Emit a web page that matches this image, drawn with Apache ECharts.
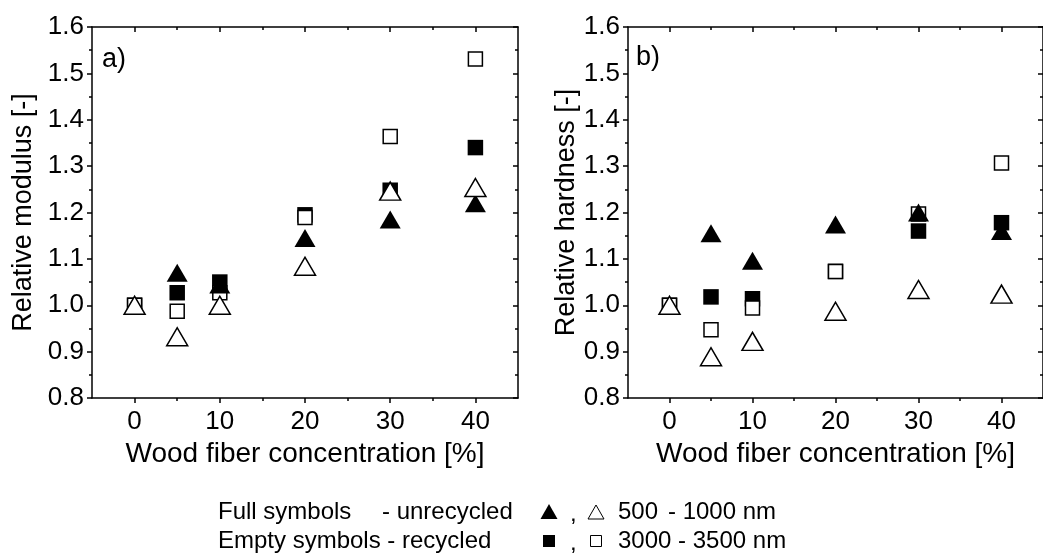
<!DOCTYPE html>
<html>
<head>
<meta charset="utf-8">
<script src="https://cdn.jsdelivr.net/npm/echarts@6/dist/echarts.min.js"></script>
<style>
  html, body { margin: 0; padding: 0; background: #fff; }
  #chart { width: 1043px; height: 557px; }
</style>
</head>
<body>
<div id="chart"></div>
<script>
// Wood fiber concentration [%]
const concentration = [0, 5, 10, 20, 30, 40];

// Tick positions
const xMajorTicks = [0, 10, 20, 30, 40];
const xMinorTicks = [5, 15, 25, 35];
const yMajorTicks = [0.8, 0.9, 1.0, 1.1, 1.2, 1.3, 1.4, 1.5, 1.6];
const yMinorTicks = [0.85, 0.95, 1.05, 1.15, 1.25, 1.35, 1.45, 1.55];

// a) Relative modulus [-]
const modulusUnrecycled500 = [1.0, 1.07, 1.045, 1.145, 1.185, 1.22];
const modulusRecycled500 = [1.0, 0.932, 1.0, 1.084, 1.246, 1.254];
const modulusUnrecycled3000 = [1.0, 1.027, 1.05, 1.195, 1.248, 1.34];
const modulusRecycled3000 = [1.0, 0.987, 1.027, 1.189, 1.364, 1.531];

// b) Relative hardness [-]
const hardnessUnrecycled500 = [1.0, 1.155, 1.096, 1.174, 1.2, 1.16];
const hardnessRecycled500 = [1.0, 0.889, 0.922, 0.987, 1.034, 1.024];
const hardnessUnrecycled3000 = [1.0, 1.018, 1.014, 1.073, 1.16, 1.178];
const hardnessRecycled3000 = [1.0, 0.947, 0.994, 1.073, 1.197, 1.307];

const FONT = "'Liberation Sans', Arial, sans-serif";
const INK = '#000';

const pairs = ys => concentration.map((x, i) => [x, ys[i]]);

const chart = echarts.init(document.getElementById('chart'), null, { renderer: 'canvas' });

const grids = [
  { left: 92, top: 27, width: 426, height: 371 },
  { left: 628, top: 27, width: 426, height: 371 }
];

const xAxes = [];
const yAxes = [];

function addAxes(g, yName, yNameGap) {
  const lineStyle = { color: INK, width: 1.5 };
  const base = { gridIndex: g, type: 'value', min: -5, max: 45, interval: 5, splitLine: { show: false } };
  // bottom: major ticks with labels
  xAxes.push(Object.assign({}, base, {
    position: 'bottom',
    name: 'Wood fiber concentration [%]',
    nameLocation: 'middle',
    nameGap: 40,
    nameTextStyle: { fontFamily: FONT, fontSize: 28, color: INK },
    axisLine: { show: true, onZero: false, lineStyle },
    axisTick: { show: true, inside: false, length: 5, lineStyle, customValues: xMajorTicks },
    axisLabel: { show: true, margin: 11, fontFamily: FONT, fontSize: 26, color: INK, customValues: xMajorTicks }
  }));
  // bottom: minor ticks
  xAxes.push(Object.assign({}, base, {
    position: 'bottom',
    axisLine: { show: false, onZero: false },
    axisTick: { show: true, inside: false, length: 3, lineStyle, customValues: xMinorTicks },
    axisLabel: { show: false }
  }));
  // top frame with inward ticks
  xAxes.push(Object.assign({}, base, {
    position: 'top',
    axisLine: { show: true, onZero: false, lineStyle },
    axisTick: { show: true, inside: true, length: 5, lineStyle, customValues: xMajorTicks },
    axisLabel: { show: false }
  }));
  xAxes.push(Object.assign({}, base, {
    position: 'top',
    axisLine: { show: false, onZero: false },
    axisTick: { show: true, inside: true, length: 3, lineStyle, customValues: xMinorTicks },
    axisLabel: { show: false }
  }));

  const ybase = { gridIndex: g, type: 'value', min: 0.8, max: 1.6, interval: 0.05, splitLine: { show: false } };
  yAxes.push(Object.assign({}, ybase, {
    position: 'left',
    name: yName,
    nameLocation: 'middle',
    nameRotate: 90,
    nameGap: yNameGap,
    nameTextStyle: { fontFamily: FONT, fontSize: 27, color: INK },
    axisLine: { show: true, onZero: false, lineStyle },
    axisTick: { show: true, inside: false, length: 5, lineStyle, customValues: yMajorTicks },
    axisLabel: { show: true, margin: 8, fontFamily: FONT, fontSize: 26, color: INK,
                 customValues: yMajorTicks, formatter: v => v.toFixed(1) }
  }));
  yAxes.push(Object.assign({}, ybase, {
    position: 'left',
    axisLine: { show: false, onZero: false },
    axisTick: { show: true, inside: false, length: 3, lineStyle, customValues: yMinorTicks },
    axisLabel: { show: false }
  }));
  yAxes.push(Object.assign({}, ybase, {
    position: 'right',
    axisLine: { show: true, onZero: false, lineStyle },
    axisTick: { show: true, inside: true, length: 5, lineStyle, customValues: yMajorTicks },
    axisLabel: { show: false }
  }));
  yAxes.push(Object.assign({}, ybase, {
    position: 'right',
    axisLine: { show: false, onZero: false },
    axisTick: { show: true, inside: true, length: 3, lineStyle, customValues: yMinorTicks },
    axisLabel: { show: false }
  }));
}

addAxes(0, 'Relative modulus [-]', 55);
addAxes(1, 'Relative hardness [-]', 44);

const filled = { color: INK, borderWidth: 0, opacity: 1 };
const open = { color: '#fff', borderColor: INK, borderWidth: 1.5, opacity: 1 };
const TRI = [21, 18];
const SQ = 14;

function seriesFor(g, unrec3000, rec3000, unrec500, rec500) {
  const ax = { xAxisIndex: g * 4, yAxisIndex: g * 4 };
  return [
    Object.assign({ type: 'scatter', name: 'Unrecycled 3000 - 3500 nm', symbol: 'rect', symbolSize: SQ + 1.5, itemStyle: filled, data: pairs(unrec3000) }, ax),
    Object.assign({ type: 'scatter', name: 'Recycled 3000 - 3500 nm', symbol: 'rect', symbolSize: SQ, itemStyle: open, data: pairs(rec3000) }, ax),
    Object.assign({ type: 'scatter', name: 'Unrecycled 500 - 1000 nm', symbol: 'triangle', symbolSize: TRI, itemStyle: filled, data: pairs(unrec500) }, ax),
    Object.assign({ type: 'scatter', name: 'Recycled 500 - 1000 nm', symbol: 'triangle', symbolSize: TRI, itemStyle: open, data: pairs(rec500) }, ax)
  ];
}

const series = [].concat(
  seriesFor(0, modulusUnrecycled3000, modulusRecycled3000, modulusUnrecycled500, modulusRecycled500),
  seriesFor(1, hardnessUnrecycled3000, hardnessRecycled3000, hardnessUnrecycled500, hardnessRecycled500)
);
series.forEach(s => { s.animation = false; s.emphasis = { disabled: true }; });

const txt = (x, y, text, size) => ({
  type: 'text', x, y,
  style: { text, fontFamily: FONT, fontSize: size, fill: INK, verticalAlign: 'middle', align: 'left' }
});

// symbol key under the panels
const LEG = 24;
const row1 = 512, row2 = 541;
const graphic = [
  txt(102, 60, 'a)', 27),
  txt(636, 58, 'b)', 27),
  txt(218, row1, 'Full symbols', LEG),
  txt(382, row1, '- unrecycled', LEG),
  { type: 'polygon', shape: { points: [[549, row1 - 8], [540.5, row1 + 7], [557.5, row1 + 7]] }, style: { fill: INK } },
  txt(570, row1 + 2, ',', LEG),
  { type: 'polygon', shape: { points: [[596, row1 - 7], [588, row1 + 7], [604, row1 + 7]] }, style: { fill: '#fff', stroke: INK, lineWidth: 1 } },
  txt(618, row1, '500', LEG),
  txt(668, row1, '- 1000 nm', LEG),
  txt(218, row2, 'Empty symbols - recycled', LEG),
  { type: 'rect', shape: { x: 543, y: row2 - 6, width: 12, height: 12 }, style: { fill: INK } },
  txt(570, row2 + 2, ',', LEG),
  { type: 'rect', shape: { x: 590.5, y: row2 - 5.5, width: 11, height: 11 }, style: { fill: '#fff', stroke: INK, lineWidth: 1 } },
  txt(618, row2, '3000 - 3500 nm', LEG)
];

chart.setOption({
  animation: false,
  backgroundColor: '#fff',
  grid: grids,
  xAxis: xAxes,
  yAxis: yAxes,
  series,
  graphic
});
</script>
</body>
</html>
